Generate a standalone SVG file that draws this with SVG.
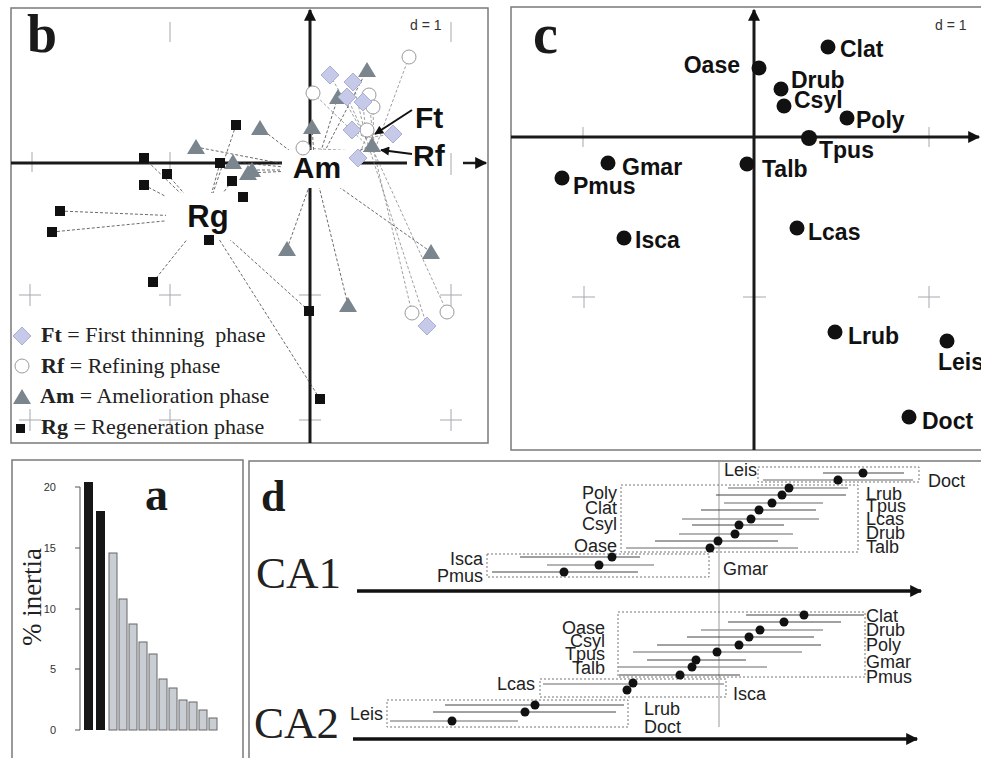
<svg xmlns="http://www.w3.org/2000/svg" width="981" height="758" viewBox="0 0 981 758">
<style>
.frame{fill:none;stroke:#7a7a7a;stroke-width:1.5}
.axis{stroke:#1a1a1a;stroke-width:3;fill:none}
.grid{stroke:#a8a8b0;stroke-width:1;fill:none}
.rg{fill:#111}
.am{fill:#7b858e}
.ft{fill:#c6cae8;stroke:#a9aed6;stroke-width:1}
.rf{fill:#fff;stroke:#9a9a9a;stroke-width:1}
.lnk{stroke:#444;stroke-width:0.8;stroke-dasharray:3 2;fill:none}
.lnk2{stroke:#777;stroke-width:0.7;stroke-dasharray:3 2;fill:none}
.big{font-family:"Liberation Sans",Arial,sans-serif;font-weight:bold;fill:#111}
.plbl{font-family:"Liberation Sans",Arial,sans-serif;font-weight:bold;font-size:23px;fill:#111}
.ser{font-family:"Liberation Serif","Times New Roman",serif;fill:#222}
.panel{font-family:"Liberation Serif","Times New Roman",serif;font-weight:bold;fill:#1a1a1a}
.dl{font-family:"Liberation Sans",Arial,sans-serif;font-size:18px;fill:#222}
.small{font-family:"Liberation Sans",Arial,sans-serif;font-size:14px;fill:#333}
.tick{font-family:"Liberation Sans",Arial,sans-serif;font-size:11px;fill:#333}
.dot{fill:#111}
.box{fill:none;stroke:#777;stroke-width:1;stroke-dasharray:2 2}
.ci1{stroke:#444;stroke-width:1.2}
.ci2{stroke:#9a9a9a;stroke-width:1.6}
.bar1{fill:#161616}
.bar2{fill:#c9cdd4;stroke:#666;stroke-width:1}
</style>
<defs>
<marker id="ah" viewBox="0 0 10 10" refX="9" refY="5" markerWidth="14" markerHeight="12" markerUnits="userSpaceOnUse" orient="auto"><path d="M0,0 L10,5 L0,10 z" fill="#111"/></marker>
<marker id="ahs" viewBox="0 0 10 10" refX="9" refY="5" markerWidth="11" markerHeight="9" markerUnits="userSpaceOnUse" orient="auto"><path d="M0,0 L10,5 L0,10 z" fill="#111"/></marker>
<path id="tri" d="M0,-8 L9,7 L-9,7 Z"/>
<path id="dia" d="M0,-9 L9,0 L0,9 L-9,0 Z"/>
<rect id="sq" x="-5" y="-5" width="10" height="10"/>
<circle id="cir" r="7"/>
</defs>
<rect width="981" height="758" fill="#fff"/>

<!-- ================= Panel b ================= -->
<g id="panel-b">
<rect class="frame" x="11" y="8" width="477" height="435"/>
<g class="grid">
<path d="M32,152V172M170,152V172M170,22V42M451,22V42M451,153V175"/>
<path d="M19,295H41M30,284V306M159,295H181M170,284V306M299,295H321M440,295H462M451,284V306"/>
<path d="M19,420H41M30,409V431M159,420H181M170,409V431M299,420H321M440,420H462M451,409V431"/>
</g>
<path class="axis" d="M310,443V10" marker-end="url(#ah)"/>
<path class="axis" d="M11,163H407"/>
<path class="axis" d="M463,163H486" style="stroke-width:2.5" marker-end="url(#ah)"/>
<text class="small" x="410" y="30">d = 1</text>
<text class="panel" x="27" y="52" font-size="54">b</text>
</g>

<g id="connectors">
<path class="lnk" d="M236,125L205,217M144,158L205,217M167,174L205,217M144,185L205,217M220,163L205,217M232,181L205,217M243,197L205,217M60,211L205,217M52,232L205,217M153,282L205,217M209,240L205,217M309,311L205,217M320,399L205,217"/>
<path class="lnk" d="M196,147L315,170M233,162L315,170M248,173L315,170M260,128L315,170M312,127L315,170M367,70L315,170M338,97L315,170M372,145L315,170M252,170L315,170M287,249L315,170M431,252L315,170M348,305L315,170"/>
<path class="lnk2" d="M330,75L366,138M353,82L366,138M347,97L366,138M363,102L366,138M352,130L366,138M393,134L366,138M358,158L366,138M427,326L366,138"/>
<path class="lnk2" d="M409,57L374,152M313,93L374,152M369,95L374,152M373,107L374,152M367,130L374,152M303,148L374,152M412,313L374,152M447,312L374,152"/>
<path d="M412,110L375,134" stroke="#111" stroke-width="2" marker-end="url(#ahs)"/>
<path d="M412,154L381,150" stroke="#111" stroke-width="2" marker-end="url(#ahs)"/>
</g>

<g id="node-Rg">
<rect x="166" y="193" width="72" height="47" fill="#fff"/>
<g class="rg">
<use href="#sq" x="236" y="125"/><use href="#sq" x="144" y="158"/><use href="#sq" x="167" y="174"/><use href="#sq" x="144" y="185"/><use href="#sq" x="220" y="163"/><use href="#sq" x="232" y="181"/><use href="#sq" x="243" y="197"/><use href="#sq" x="60" y="211"/><use href="#sq" x="52" y="232"/><use href="#sq" x="153" y="282"/><use href="#sq" x="209" y="240"/><use href="#sq" x="309" y="311"/><use href="#sq" x="320" y="399"/>
</g>
<text class="big" x="208" y="227" font-size="31" text-anchor="middle">Rg</text>
</g>

<g id="node-Am">
<rect x="282" y="150" width="76" height="38" fill="#fff"/>
<g class="am">
<use href="#tri" x="196" y="147"/><use href="#tri" x="233" y="162"/><use href="#tri" x="248" y="173"/><use href="#tri" x="260" y="128"/><use href="#tri" x="312" y="127"/><use href="#tri" x="367" y="70"/><use href="#tri" x="338" y="97"/><use href="#tri" x="252" y="170"/><use href="#tri" x="287" y="249"/><use href="#tri" x="431" y="252"/><use href="#tri" x="348" y="305"/>
</g>
<text class="big" x="317" y="178" font-size="30" text-anchor="middle">Am</text>
</g>

<g id="node-Rf">
<g class="rf">
<use href="#cir" x="409" y="57"/><use href="#cir" x="313" y="93"/><use href="#cir" x="369" y="95"/><use href="#cir" x="373" y="107"/><use href="#cir" x="367" y="130"/><use href="#cir" x="303" y="148"/><use href="#cir" x="412" y="313"/><use href="#cir" x="447" y="312"/>
</g>
<text class="big" x="413" y="166" font-size="30">Rf</text>
</g>

<g id="node-Ft">
<g class="ft">
<use href="#dia" x="330" y="75"/><use href="#dia" x="353" y="82"/><use href="#dia" x="347" y="97"/><use href="#dia" x="363" y="102"/><use href="#dia" x="352" y="130"/><use href="#dia" x="393" y="134"/><use href="#dia" x="358" y="158"/><use href="#dia" x="427" y="326"/>
</g>
<use href="#tri" x="372" y="145" class="am"/>
<text class="big" x="415" y="128" font-size="30">Ft</text>
</g>

<g id="legend-b" class="ser" font-size="22">
<use href="#dia" x="22" y="336" class="ft"/>
<text x="41" y="342" xml:space="preserve"><tspan font-weight="bold">Ft</tspan> = First thinning  phase</text>
<use href="#cir" x="22" y="366" class="rf"/>
<text x="41" y="373"><tspan font-weight="bold">Rf</tspan> = Refining phase</text>
<use href="#tri" x="22" y="397" class="am"/>
<text x="40" y="403"><tspan font-weight="bold">Am</tspan> = Amelioration phase</text>
<rect x="16" y="424" width="9" height="9" class="rg"/>
<text x="41" y="434"><tspan font-weight="bold">Rg</tspan> = Regeneration phase</text>
</g>

<!-- ================= Panel c ================= -->
<g id="panel-c">
<rect class="frame" x="511" y="7" width="480" height="443"/>
<g class="grid">
<path d="M583,127V147M929,127V147"/>
<path d="M572,297H595M584,286V308M743,297H766M918,297H940M929,286V308"/>
</g>
<path class="axis" d="M754,450V10" marker-end="url(#ah)"/>
<path class="axis" d="M511,137H979" marker-end="url(#ah)"/>
<text class="small" x="935" y="30">d = 1</text>
<text class="panel" x="533" y="53" font-size="56">c</text>
</g>
<g id="node-Oase"><circle class="dot" cx="759" cy="68" r="7.5"/><text class="plbl" x="740" y="73" text-anchor="end">Oase</text></g>
<g id="node-Clat"><circle class="dot" cx="828" cy="47" r="7.5"/><text class="plbl" x="840" y="57">Clat</text></g>
<g id="node-Drub"><circle class="dot" cx="781" cy="89" r="7.5"/><text class="plbl" x="791" y="88">Drub</text></g>
<g id="node-Csyl"><circle class="dot" cx="784" cy="106" r="7.5"/><text class="plbl" x="794" y="108">Csyl</text></g>
<g id="node-Poly"><circle class="dot" cx="847" cy="118" r="7.5"/><text class="plbl" x="856" y="128">Poly</text></g>
<g id="node-Tpus"><circle class="dot" cx="809" cy="138" r="8"/><text class="plbl" x="819" y="158">Tpus</text></g>
<g id="node-Talb"><circle class="dot" cx="747" cy="164" r="7.5"/><text class="plbl" x="762" y="177">Talb</text></g>
<g id="node-Gmar"><circle class="dot" cx="608" cy="163" r="7.5"/><text class="plbl" x="622" y="175">Gmar</text></g>
<g id="node-Pmus"><circle class="dot" cx="562" cy="178" r="7.5"/><text class="plbl" x="573" y="194">Pmus</text></g>
<g id="node-Isca"><circle class="dot" cx="624" cy="238" r="7.5"/><text class="plbl" x="635" y="248">Isca</text></g>
<g id="node-Lcas"><circle class="dot" cx="797" cy="228" r="7.5"/><text class="plbl" x="808" y="240">Lcas</text></g>
<g id="node-Lrub"><circle class="dot" cx="835" cy="332" r="7.5"/><text class="plbl" x="848" y="344">Lrub</text></g>
<g id="node-Leis"><circle class="dot" cx="947" cy="341" r="7.5"/><text class="plbl" x="938" y="370">Leis</text></g>
<g id="node-Doct"><circle class="dot" cx="909" cy="417" r="7.5"/><text class="plbl" x="922" y="429">Doct</text></g>

<!-- ================= Panel a ================= -->
<g id="panel-a">
<rect class="frame" x="12" y="460" width="231" height="310"/>
<path d="M80,487V730M75,487H80M75,548H80M75,609H80M75,669H80M75,730H80" stroke="#555" stroke-width="1" fill="none"/>
<g class="tick" text-anchor="end">
<text x="56" y="491">20</text><text x="56" y="552">15</text><text x="56" y="613">10</text><text x="56" y="673">5</text><text x="56" y="734">0</text>
</g>
<text class="ser" font-size="27" fill="#333" text-anchor="middle" transform="translate(41,597) rotate(-90)">% inertia</text>
<rect class="bar1" x="84" y="482" width="9" height="248"/>
<rect class="bar1" x="96" y="511" width="9" height="219"/>
<rect class="bar2" x="109" y="553" width="8" height="177"/>
<rect class="bar2" x="119" y="599" width="8" height="131"/>
<rect class="bar2" x="129" y="624" width="8" height="106"/>
<rect class="bar2" x="139" y="642" width="8" height="88"/>
<rect class="bar2" x="149" y="654" width="8" height="76"/>
<rect class="bar2" x="159" y="679" width="8" height="51"/>
<rect class="bar2" x="169" y="688" width="8" height="42"/>
<rect class="bar2" x="179" y="700" width="8" height="30"/>
<rect class="bar2" x="189" y="702" width="8" height="28"/>
<rect class="bar2" x="199" y="710" width="8" height="20"/>
<rect class="bar2" x="209" y="718" width="8" height="12"/>
<text class="panel" x="145" y="510" font-size="46">a</text>
</g>

<!-- ================= Panel d ================= -->
<g id="panel-d">
<path class="frame" d="M249,758V461H981"/>
<path d="M719,461V727" stroke="#999" stroke-width="1"/>
<text class="panel" x="261" y="511" font-size="44">d</text>
<text class="ser" x="256" y="588" font-size="45" fill="#222">CA1</text>
<text class="ser" x="254" y="738" font-size="45" fill="#222">CA2</text>
<path d="M357,591H921" stroke="#111" stroke-width="3.5" marker-end="url(#ah)"/>
<path d="M353,739H917" stroke="#111" stroke-width="3.5" marker-end="url(#ah)"/>
</g>

<g id="ca1-intervals">
<rect class="box" x="758" y="467" width="161" height="15"/>
<rect class="box" x="621" y="485" width="237" height="67"/>
<rect class="box" x="487" y="554" width="222" height="23"/>
<path class="ci1" d="M823,473H904M716,495H846M701,510H816M692,525H784M655,541H778M520,557H640M492,572H638"/>
<path class="ci2" d="M763,480H913M728,488H848M724,503H823M682,519H819M679,534H793M626,548H798M547,565H654"/>
<g class="dot">
<circle cx="863" cy="473" r="4.5"/><circle cx="838" cy="480" r="4.5"/>
<circle cx="789" cy="488" r="4.5"/><circle cx="782" cy="495" r="4.5"/><circle cx="772" cy="503" r="4.5"/><circle cx="759" cy="510" r="4.5"/><circle cx="751" cy="519" r="4.5"/><circle cx="739" cy="525" r="4.5"/><circle cx="735" cy="534" r="4.5"/><circle cx="718" cy="541" r="4.5"/><circle cx="710" cy="548" r="4.5"/>
<circle cx="612" cy="557" r="4.5"/><circle cx="599" cy="565" r="4.5"/><circle cx="564" cy="572" r="4.5"/>
</g>
<g class="dl">
<text x="757" y="476" text-anchor="end">Leis</text>
<text x="928" y="487">Doct</text>
<text x="617" y="499" text-anchor="end">Poly</text>
<text x="617" y="514" text-anchor="end">Clat</text>
<text x="617" y="530" text-anchor="end">Csyl</text>
<text x="617" y="552" text-anchor="end">Oase</text>
<text x="866" y="500">Lrub</text>
<text x="866" y="512">Tpus</text>
<text x="866" y="525">Lcas</text>
<text x="866" y="539">Drub</text>
<text x="866" y="553">Talb</text>
<text x="483" y="565" text-anchor="end">Isca</text>
<text x="483" y="582" text-anchor="end">Pmus</text>
<text x="723" y="575">Gmar</text>
</g>
</g>

<g id="ca2-intervals">
<rect class="box" x="618" y="612" width="247" height="65"/>
<rect class="box" x="540" y="679" width="186" height="18"/>
<rect class="box" x="387" y="700" width="241" height="27"/>
<path class="ci1" d="M746,615H864M728,622H841M687,637H814M657,645H821M647,660H746M619,675H740M445,705H624M433,712H616"/>
<path class="ci2" d="M701,630H823M633,652H802M618,667H767M543,684H724M390,721H518"/>
<g class="dot">
<circle cx="804" cy="615" r="4.5"/><circle cx="784" cy="622" r="4.5"/><circle cx="760" cy="630" r="4.5"/><circle cx="749" cy="637" r="4.5"/><circle cx="739" cy="645" r="4.5"/><circle cx="717" cy="652" r="4.5"/><circle cx="696" cy="660" r="4.5"/><circle cx="692" cy="667" r="4.5"/><circle cx="680" cy="675" r="4.5"/>
<circle cx="633" cy="683" r="4.5"/><circle cx="627" cy="690" r="4.5"/>
<circle cx="535" cy="705" r="4.5"/><circle cx="525" cy="712" r="4.5"/><circle cx="452" cy="721" r="4.5"/>
</g>
<g class="dl">
<text x="866" y="622">Clat</text>
<text x="866" y="636">Drub</text>
<text x="866" y="651">Poly</text>
<text x="866" y="668">Gmar</text>
<text x="866" y="683">Pmus</text>
<text x="605" y="634" text-anchor="end">Oase</text>
<text x="605" y="647" text-anchor="end">Csyl</text>
<text x="605" y="660" text-anchor="end">Tpus</text>
<text x="605" y="674" text-anchor="end">Talb</text>
<text x="535" y="690" text-anchor="end">Lcas</text>
<text x="733" y="700">Isca</text>
<text x="383" y="720" text-anchor="end">Leis</text>
<text x="644" y="715">Lrub</text>
<text x="644" y="733">Doct</text>
</g>
</g>
</svg>
